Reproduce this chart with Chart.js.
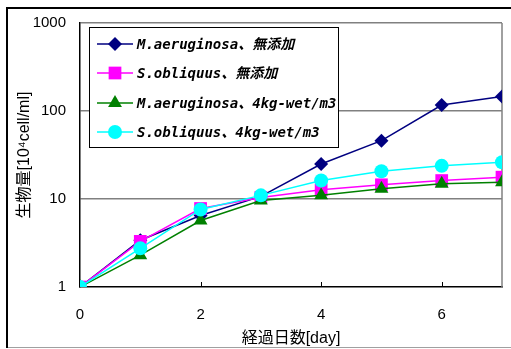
<!DOCTYPE html>
<html>
<head>
<meta charset="utf-8">
<script src="https://cdn.jsdelivr.net/npm/chart.js@4/dist/chart.umd.min.js"></script>
<style>
  html, body { margin: 0; padding: 0; background: #fff; }
  #wrap { width: 511px; height: 349px; }
</style>
</head>
<body>
<div id="wrap"><canvas id="c" width="511" height="349"></canvas></div>
<script>
// Culture days
const days = [0, 1, 2, 3, 4, 5, 6, 7];

// Biomass [10^4 cell/ml]
const maeruginosaControl = [1, 3.4, 6.5, 10.7, 25, 46, 117, 146];
const sobliquusControl   = [1, 3.3, 7.8, 10.4, 12.7, 14.5, 16.2, 17.7];
const maeruginosaDosed   = [1, 2.3, 5.7, 9.6, 11, 13.1, 14.9, 15.5];
const sobliquusDosed     = [1, 2.75, 7.6, 11, 16.2, 20.7, 23.8, 26.2];

const seriesNames = [
  'M.aeruginosa、無添加',
  'S.obliquus、無添加',
  'M.aeruginosa、4kg-wet/m3',
  'S.obliquus、4kg-wet/m3'
];

const xTickValues = [0, 2, 4, 6];
const yTickValues = [1, 10, 100, 1000];

const xTitle = '経過日数[day]';
const yTitle = '生物量[10⁴cell/ml]';

const toPoints = vals => vals.map((v, i) => ({ x: days[i], y: v }));

const styles = [
  { color: '#000080', pointStyle: 'rectRot', radius: 7, order: 4 },
  { color: '#FF00FF', pointStyle: 'rect', radius: 9, order: 3 },
  { color: '#008000', pointStyle: 'triangle', radius: 8, order: 2 },
  { color: '#00FFFF', pointStyle: 'circle', radius: 7, order: 1 }
];
const seriesData = [maeruginosaControl, sobliquusControl, maeruginosaDosed, sobliquusDosed];

const datasets = seriesData.map((vals, i) => ({
  label: seriesNames[i],
  data: toPoints(vals),
  borderColor: styles[i].color,
  backgroundColor: styles[i].color,
  borderWidth: 1.5,
  pointStyle: styles[i].pointStyle,
  pointRadius: styles[i].radius,
  pointHoverRadius: styles[i].radius,
  pointBorderWidth: 0,
  pointBackgroundColor: styles[i].color,
  order: styles[i].order,
  tension: 0
}));

// Page background and outer frame
const framePlugin = {
  id: 'frame',
  beforeDraw(chart) {
    const ctx = chart.ctx;
    ctx.save();
    ctx.fillStyle = '#fff';
    ctx.fillRect(0, 0, chart.width, chart.height);
    ctx.strokeStyle = '#a0a0a0';
    ctx.lineWidth = 1;
    ctx.beginPath();
    ctx.moveTo(7, 347.5);
    ctx.lineTo(chart.width, 347.5);
    ctx.stroke();
    ctx.strokeStyle = '#000';
    ctx.lineWidth = 2;
    ctx.beginPath();
    ctx.moveTo(chart.width + 2, 8);
    ctx.lineTo(7, 8);
    ctx.lineTo(7, 348);
    ctx.stroke();
    ctx.restore();
  },
  beforeDatasetsDraw(chart) {
    const { ctx, chartArea: a, scales } = chart;
    ctx.save();
    // plot area right border
    ctx.strokeStyle = '#808080';
    ctx.lineWidth = 1.5;
    ctx.beginPath();
    ctx.moveTo(a.right, a.top);
    ctx.lineTo(a.right, a.bottom);
    ctx.stroke();
    // inward tick marks on the day axis
    ctx.strokeStyle = '#000';
    ctx.lineWidth = 1;
    xTickValues.forEach(v => {
      const px = Math.round(scales.x.getPixelForValue(v)) + 0.5;
      ctx.beginPath();
      ctx.moveTo(px, a.bottom);
      ctx.lineTo(px, a.bottom - 5);
      ctx.stroke();
    });
    ctx.restore();
  },
  afterDraw(chart) {
    // legend box with line + marker samples
    const ctx = chart.ctx;
    const box = { x: 89.5, y: 27.5, w: 249, h: 120 };
    ctx.save();
    ctx.fillStyle = '#fff';
    ctx.fillRect(box.x, box.y, box.w, box.h);
    ctx.strokeStyle = '#000';
    ctx.lineWidth = 1;
    ctx.strokeRect(box.x, box.y, box.w, box.h);
    const rowY = [44, 73, 103, 132];
    chart.data.datasets.forEach((ds, i) => {
      const y = rowY[i];
      ctx.strokeStyle = ds.borderColor;
      ctx.lineWidth = 1.5;
      ctx.beginPath();
      ctx.moveTo(97, y);
      ctx.lineTo(133, y);
      ctx.stroke();
      ctx.fillStyle = ds.backgroundColor;
      Chart.helpers.drawPoint(ctx, {
        pointStyle: ds.pointStyle,
        radius: ds.pointRadius,
        rotation: 0,
        borderWidth: 0
      }, 115, y);
      ctx.fillStyle = '#000';
      ctx.font = 'italic bold 14px "DejaVu Sans Mono", "Noto Sans CJK JP"';
      ctx.textBaseline = 'middle';
      ctx.textAlign = 'left';
      ctx.fillText(ds.label, 137, y + 1);
    });
    ctx.restore();
  }
};

new Chart(document.getElementById('c'), {
  type: 'line',
  data: { datasets },
  options: {
    responsive: false,
    animation: false,
    devicePixelRatio: 1,
    layout: { padding: { left: 0, top: 22, right: 7, bottom: 0 } },
    plugins: { legend: { display: false }, tooltip: { enabled: false } },
    scales: {
      x: {
        type: 'linear',
        min: 0,
        max: 7,
        afterBuildTicks: s => { s.ticks = xTickValues.map(v => ({ value: v })); },
        afterFit: s => { s.height = 62; },
        ticks: {
          color: '#000',
          font: { family: '"Liberation Sans", Arial', size: 15 },
          padding: 19,
          maxRotation: 0
        },
        grid: { display: false, drawTicks: false },
        border: { display: true, color: '#000', width: 1.5 },
        title: {
          display: true,
          text: xTitle,
          color: '#000',
          font: { family: '"Liberation Sans", "Noto Sans CJK JP"', size: 16 },
          padding: { top: 0, bottom: 1 }
        }
      },
      y: {
        type: 'logarithmic',
        min: 1,
        max: 1000,
        afterBuildTicks: s => { s.ticks = yTickValues.map(v => ({ value: v })); },
        afterFit: s => { s.width = 80; },
        ticks: {
          color: '#000',
          font: { family: '"Liberation Sans", Arial', size: 15 },
          padding: 14,
          callback: v => String(v)
        },
        grid: {
          drawTicks: false,
          lineWidth: 1.5,
          color: c => (c.tick && c.tick.value === 1) ? 'rgba(0,0,0,0)' : '#808080'
        },
        border: { display: true, color: '#000', width: 1.5 },
        title: {
          display: true,
          text: yTitle,
          color: '#000',
          font: { family: '"Liberation Sans", "Noto Sans CJK JP"', size: 16 },
          padding: { top: 15, bottom: 0 }
        }
      }
    }
  },
  plugins: [framePlugin]
});
</script>
</body>
</html>
